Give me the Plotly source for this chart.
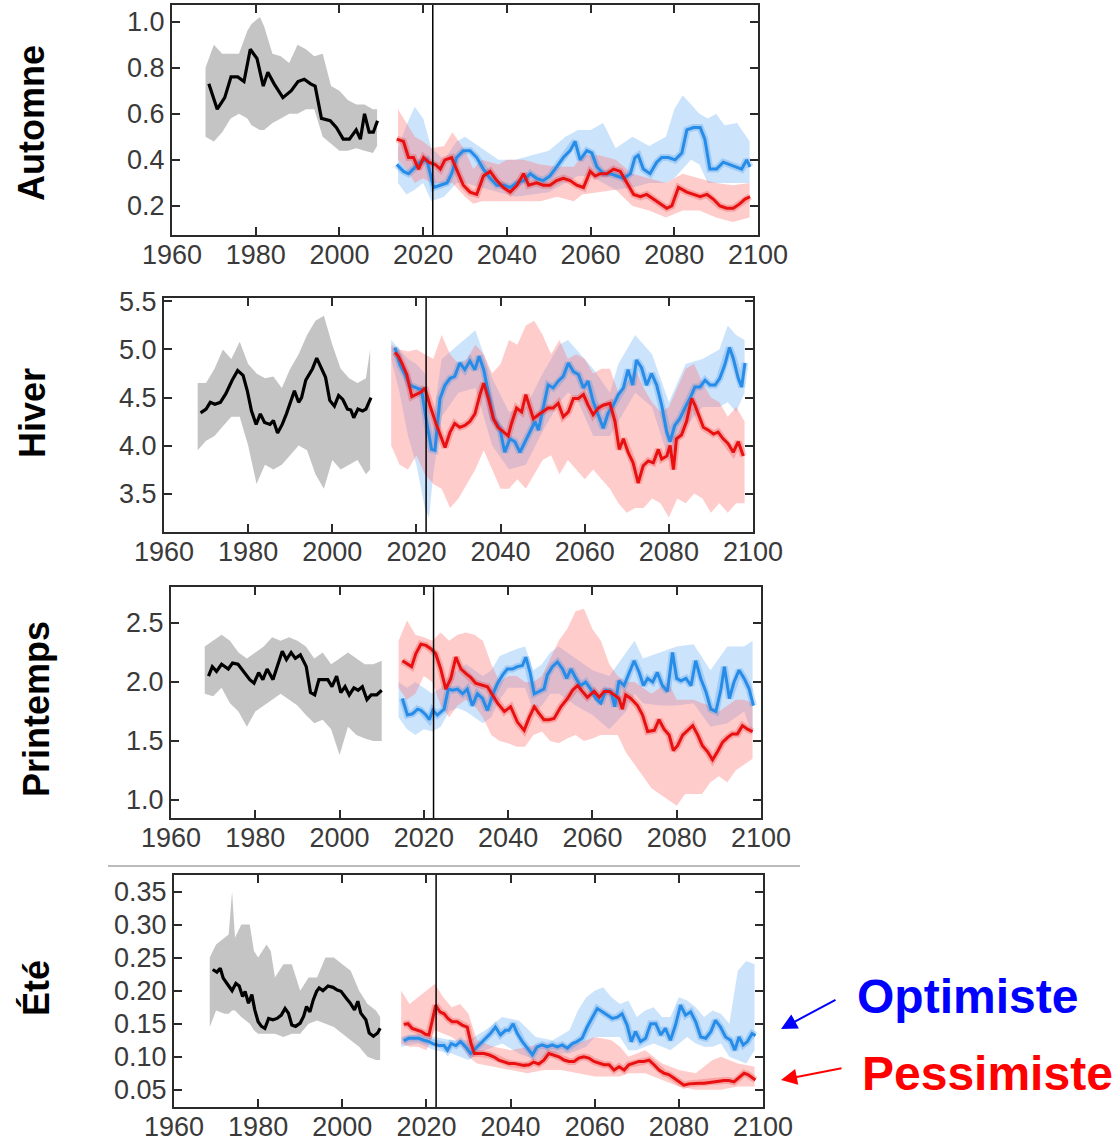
import plotly.graph_objects as go

W, H = 1118, 1143

# ---------------- DATA ----------------
X_TICKS = [1960, 1980, 2000, 2020, 2040, 2060, 2080, 2100]
VLINE_X = 2022.3

# ---- Automne ----
AUT_HIST_X = [1968.8,1970.8,1972.6,1974.1,1975.7,1977.2,1978.7,1980.3,1981.8,1982.9,1984.4,1986.5,1988.5,1990.1,1991.6,1993.1,1994.2,1995.7,1997.8,1999.3,2000.9,2002.4,2004.0,2005.0,2006.0,2007.1,2008.1,2009.1]
AUT_HIST_Y = [0.73,0.62,0.67,0.76,0.76,0.74,0.88,0.84,0.72,0.78,0.73,0.67,0.70,0.74,0.75,0.73,0.72,0.58,0.57,0.54,0.49,0.49,0.53,0.49,0.60,0.52,0.52,0.57]
AUT_HB_X = [1968,1970,1972,1974,1976,1978,1979,1981,1982,1984,1986,1988,1990,1992,1994,1996,1998,2000,2002,2004,2006,2008,2009]
AUT_HB_HI = [0.80,0.90,0.86,0.86,0.86,0.96,0.99,1.02,0.98,0.86,0.85,0.82,0.90,0.88,0.85,0.86,0.72,0.70,0.66,0.64,0.64,0.62,0.62]
AUT_HB_LO = [0.50,0.48,0.52,0.58,0.60,0.58,0.55,0.53,0.53,0.56,0.58,0.60,0.60,0.62,0.62,0.50,0.47,0.44,0.44,0.45,0.44,0.43,0.46]
AUT_RED_X = [2013.7,2015.3,2016.5,2017.7,2018.9,2020.1,2021.3,2022.9,2024.1,2025.2,2026.8,2028.0,2029.6,2031.2,2032.8,2034.4,2036.0,2037.6,2039.2,2040.8,2042.4,2044.0,2045.2,2047.1,2048.7,2050.3,2051.9,2053.5,2055.1,2056.7,2058.3,2059.9,2061.1,2062.3,2063.9,2065.5,2067.1,2068.7,2070.3,2071.9,2073.4,2075.0,2076.6,2078.2,2079.4,2081.0,2083.0,2084.6,2086.2,2087.8,2089.3,2090.9,2092.5,2094.1,2095.7,2096.9,2098.1]
AUT_RED_Y = [0.49,0.48,0.41,0.41,0.36,0.41,0.39,0.38,0.36,0.40,0.41,0.36,0.29,0.26,0.25,0.33,0.35,0.31,0.28,0.26,0.29,0.34,0.29,0.30,0.29,0.29,0.31,0.32,0.31,0.29,0.28,0.35,0.33,0.34,0.34,0.36,0.35,0.30,0.25,0.24,0.25,0.23,0.21,0.19,0.20,0.28,0.26,0.25,0.24,0.25,0.23,0.20,0.19,0.19,0.21,0.23,0.24]
AUT_BLUE_X = [2013.7,2015.3,2016.5,2017.7,2019.3,2020.9,2022.5,2024.1,2025.7,2026.8,2028.0,2029.6,2031.2,2032.8,2034.4,2036.0,2037.6,2039.2,2040.8,2042.4,2044.0,2045.6,2047.1,2048.7,2050.3,2051.9,2053.5,2055.1,2056.3,2057.5,2059.1,2060.3,2061.5,2063.1,2064.7,2066.3,2067.9,2069.5,2070.6,2071.4,2072.6,2074.2,2075.8,2077.0,2078.6,2080.2,2081.8,2083.0,2084.6,2086.2,2087.3,2088.5,2090.1,2091.7,2093.3,2094.9,2096.1,2097.3,2098.1]
AUT_BLUE_Y = [0.38,0.35,0.34,0.36,0.39,0.40,0.28,0.29,0.30,0.34,0.41,0.44,0.44,0.41,0.36,0.32,0.29,0.29,0.28,0.30,0.31,0.34,0.32,0.31,0.33,0.37,0.41,0.44,0.48,0.40,0.44,0.43,0.37,0.34,0.34,0.33,0.32,0.34,0.41,0.42,0.36,0.34,0.39,0.41,0.41,0.40,0.43,0.53,0.54,0.54,0.49,0.36,0.36,0.39,0.38,0.37,0.36,0.40,0.37]
AUT_BB_X = [2014,2016,2018,2020,2022,2025,2028,2030,2034,2038,2042,2046,2050,2054,2057,2060,2063,2066,2070,2074,2078,2080,2082,2084,2086,2088,2090,2092,2095,2098]
AUT_BB_HI = [0.45,0.55,0.63,0.58,0.45,0.40,0.48,0.50,0.45,0.40,0.40,0.42,0.44,0.50,0.53,0.53,0.56,0.45,0.50,0.46,0.50,0.62,0.68,0.64,0.60,0.58,0.60,0.55,0.56,0.48]
AUT_BB_LO = [0.30,0.25,0.27,0.30,0.22,0.24,0.30,0.30,0.28,0.26,0.24,0.25,0.26,0.30,0.33,0.33,0.30,0.27,0.28,0.30,0.30,0.32,0.36,0.40,0.38,0.30,0.30,0.30,0.30,0.30]
AUT_RB_X = [2014,2016,2018,2020,2022,2025,2027,2030,2032,2034,2038,2040,2044,2048,2052,2056,2058,2062,2066,2070,2074,2078,2082,2086,2090,2094,2098]
AUT_RB_HI = [0.62,0.56,0.50,0.48,0.45,0.46,0.52,0.44,0.36,0.40,0.38,0.40,0.40,0.38,0.37,0.37,0.42,0.42,0.40,0.34,0.32,0.30,0.34,0.32,0.30,0.29,0.30]
AUT_RB_LO = [0.40,0.36,0.30,0.32,0.30,0.30,0.30,0.24,0.21,0.22,0.22,0.22,0.22,0.22,0.24,0.22,0.25,0.26,0.27,0.20,0.18,0.15,0.18,0.18,0.15,0.13,0.15]
AUT_Y_TICKS = [0.2, 0.4, 0.6, 0.8, 1.0]

# ---- Hiver ----
HIV_HIST_X = [1968.7,1970.0,1971.0,1972.1,1973.4,1974.7,1976.2,1977.5,1978.8,1979.8,1980.8,1981.9,1982.9,1983.9,1985.2,1986.0,1987.0,1988.1,1989.1,1990.1,1991.0,1992.0,1992.7,1993.7,1995.3,1996.3,1997.4,1998.4,1999.4,2000.5,2001.5,2002.5,2003.6,2004.4,2005.1,2006.1,2007.2,2008.0,2009.2]
HIV_HIST_Y = [4.34,4.38,4.45,4.43,4.45,4.54,4.68,4.78,4.73,4.57,4.36,4.22,4.33,4.24,4.22,4.26,4.13,4.22,4.33,4.45,4.57,4.45,4.50,4.68,4.80,4.91,4.80,4.71,4.47,4.41,4.52,4.48,4.38,4.37,4.29,4.38,4.36,4.38,4.50]
HIV_HB_X = [1968,1970,1972,1974,1976,1978,1980,1982,1984,1986,1988,1990,1992,1994,1996,1998,2000,2002,2004,2006,2008,2009]
HIV_HB_HI = [4.65,4.65,4.80,5.00,4.90,5.08,4.85,4.75,4.70,4.72,4.60,4.80,4.95,5.15,5.30,5.35,5.05,4.80,4.70,4.65,4.70,5.00]
HIV_HB_LO = [3.95,4.05,4.10,4.20,4.30,4.30,4.00,3.60,3.80,3.75,3.80,3.90,4.00,3.95,3.70,3.55,3.85,3.75,3.80,3.85,3.70,3.75]
HIV_RED_X = [2014.9,2015.7,2016.5,2017.7,2018.9,2020.0,2021.2,2022.0,2023.2,2024.8,2026.0,2026.8,2028.0,2029.1,2030.3,2031.5,2032.7,2033.9,2035.1,2036.0,2037.1,2038.3,2039.4,2040.6,2041.8,2042.6,2043.8,2045.0,2046.0,2047.0,2047.8,2049.0,2050.1,2051.3,2052.5,2053.7,2054.9,2056.1,2057.3,2058.5,2059.7,2060.8,2062.0,2063.2,2064.4,2066.0,2067.2,2068.2,2069.2,2070.3,2071.5,2072.7,2073.9,2075.1,2076.3,2077.5,2078.3,2079.5,2080.3,2081.1,2081.8,2083.0,2084.2,2085.4,2086.2,2087.0,2088.2,2089.4,2090.6,2091.7,2092.9,2094.1,2095.3,2096.5,2097.7]
HIV_RED_Y = [4.97,4.93,4.86,4.74,4.51,4.53,4.56,4.60,4.42,4.21,4.07,3.98,4.14,4.23,4.19,4.21,4.25,4.33,4.53,4.65,4.49,4.28,4.19,4.14,4.10,4.23,4.39,4.35,4.53,4.39,4.28,4.32,4.35,4.39,4.39,4.44,4.30,4.35,4.49,4.49,4.53,4.42,4.32,4.39,4.42,4.44,4.25,3.96,4.07,3.93,3.82,3.61,3.79,3.84,3.82,3.96,3.86,3.89,4.00,3.75,4.07,4.11,4.25,4.49,4.42,4.32,4.19,4.16,4.12,4.14,4.07,4.02,3.93,4.04,3.89]
HIV_BLUE_X = [2014.9,2016.1,2017.3,2018.4,2020.0,2021.2,2022.4,2023.6,2024.4,2025.6,2026.8,2028.0,2029.1,2030.3,2031.5,2032.7,2033.9,2034.9,2036.0,2037.1,2038.3,2039.8,2041.0,2042.2,2043.4,2044.6,2045.8,2047.0,2048.2,2049.0,2050.1,2051.3,2052.5,2053.7,2054.9,2056.1,2057.3,2058.5,2059.7,2060.8,2062.0,2063.2,2064.4,2065.6,2066.8,2068.0,2069.2,2070.3,2071.4,2072.3,2073.5,2074.7,2075.9,2077.1,2078.3,2079.5,2080.3,2081.4,2082.6,2083.8,2085.0,2086.2,2087.4,2088.6,2089.8,2091.0,2092.1,2093.3,2094.4,2095.3,2096.5,2097.3,2098.1]
HIV_BLUE_Y = [5.02,4.84,4.74,4.63,4.60,4.58,4.25,3.96,3.95,4.49,4.63,4.70,4.72,4.86,4.79,4.88,4.79,4.93,4.79,4.56,4.28,4.18,3.93,4.07,4.04,3.93,4.04,4.14,4.25,4.16,4.39,4.63,4.60,4.67,4.72,4.86,4.77,4.74,4.60,4.67,4.46,4.32,4.18,4.34,4.42,4.53,4.60,4.79,4.63,4.89,4.81,4.63,4.75,4.63,4.42,4.14,4.04,4.21,4.28,4.39,4.49,4.61,4.61,4.68,4.63,4.63,4.70,4.84,5.02,4.91,4.70,4.61,4.86]
HIV_BB_X = [2014,2016,2018,2020,2022,2023,2024,2026,2030,2034,2038,2042,2046,2050,2054,2056,2058,2062,2066,2068,2072,2076,2080,2084,2088,2092,2094,2096,2098]
HIV_BB_HI = [5.10,5.00,4.90,4.85,4.75,4.50,4.30,4.90,5.05,5.20,4.70,4.35,4.40,4.75,5.05,5.10,5.00,4.80,4.55,4.85,5.15,4.95,4.45,4.85,4.90,5.00,5.25,5.15,5.10]
HIV_BB_LO = [4.90,4.55,4.10,3.80,3.35,3.25,3.70,4.30,4.55,4.60,4.00,3.75,3.80,4.15,4.45,4.55,4.50,4.10,4.10,4.25,4.55,4.40,3.85,4.20,4.40,4.40,4.45,4.35,4.55]
HIV_RB_X = [2014,2016,2018,2020,2022,2024,2026,2028,2030,2032,2034,2036,2038,2040,2042,2044,2046,2048,2050,2052,2054,2056,2058,2060,2062,2064,2066,2068,2070,2072,2074,2076,2078,2080,2082,2084,2086,2088,2090,2092,2094,2096,2098]
HIV_RB_HI = [5.05,5.00,4.98,5.00,4.95,4.90,5.15,4.95,4.85,4.90,5.05,4.95,4.75,4.85,5.10,5.05,5.25,5.30,5.15,4.95,5.10,4.90,4.95,4.90,4.75,4.80,4.80,4.55,4.65,4.80,4.60,4.45,4.35,4.40,4.60,4.80,4.85,4.65,4.50,4.45,4.30,4.40,4.25]
HIV_RB_LO = [4.00,3.80,3.75,3.90,3.70,3.60,3.55,3.35,3.45,3.60,3.75,3.95,3.75,3.55,3.55,3.65,3.55,3.70,3.85,3.90,3.70,3.85,3.75,3.65,3.75,3.65,3.55,3.40,3.30,3.35,3.35,3.45,3.40,3.25,3.45,3.40,3.50,3.45,3.30,3.40,3.30,3.40,3.40]
HIV_Y_TICKS = [3.5, 4.0, 4.5, 5.0, 5.5]

# ---- Printemps ----
PRI_HIST_X = [1968.9,1969.8,1970.8,1972.0,1973.6,1974.6,1975.9,1977.2,1978.7,1979.7,1980.8,1981.8,1982.8,1984.2,1985.2,1986.4,1987.4,1988.5,1989.5,1990.7,1992.1,1993.1,1994.1,1995.1,1996.2,1997.2,1998.2,1999.3,2000.3,2001.3,2002.3,2003.4,2004.4,2005.4,2006.5,2007.5,2008.8,2010.0]
PRI_HIST_Y = [2.05,2.13,2.09,2.15,2.11,2.16,2.15,2.09,2.02,1.99,2.08,2.02,2.11,2.02,2.12,2.26,2.19,2.25,2.20,2.23,2.13,1.91,1.89,2.02,2.02,2.02,1.96,2.05,1.91,1.96,1.89,1.95,1.93,1.96,1.85,1.89,1.89,1.93]
PRI_HB_X = [1968,1970,1972,1974,1976,1978,1980,1982,1984,1986,1988,1990,1992,1994,1996,1998,2000,2002,2004,2006,2008,2010]
PRI_HB_HI = [2.30,2.35,2.40,2.35,2.25,2.20,2.25,2.30,2.38,2.35,2.38,2.35,2.30,2.20,2.25,2.15,2.20,2.25,2.20,2.15,2.15,2.18]
PRI_HB_LO = [1.90,1.88,1.95,1.82,1.75,1.62,1.75,1.80,1.85,1.90,1.85,1.80,1.72,1.65,1.68,1.60,1.38,1.62,1.55,1.52,1.50,1.50]
PRI_RED_X = [2014.9,2016.1,2017.1,2018.1,2019.3,2020.5,2021.7,2022.8,2024.0,2025.2,2026.4,2027.6,2028.8,2030.0,2031.1,2032.3,2033.9,2035.1,2036.3,2037.5,2039.1,2040.6,2042.2,2043.8,2045.0,2046.2,2047.4,2048.5,2049.7,2050.9,2052.5,2054.1,2055.3,2056.5,2057.6,2058.8,2060.4,2061.6,2062.8,2064.0,2065.2,2066.3,2067.1,2067.9,2069.1,2070.7,2071.9,2073.1,2074.7,2075.8,2077.0,2078.2,2079.2,2080.2,2081.4,2082.6,2083.8,2085.0,2086.1,2087.3,2088.5,2089.7,2090.9,2092.1,2093.2,2094.4,2095.6,2096.8,2098.0]
PRI_RED_Y = [2.18,2.15,2.13,2.24,2.32,2.31,2.28,2.24,2.11,1.94,2.03,2.21,2.11,2.07,2.04,1.99,1.97,1.96,1.89,1.82,1.75,1.79,1.66,1.59,1.70,1.79,1.73,1.68,1.68,1.69,1.79,1.86,1.93,1.97,1.92,1.87,1.92,1.87,1.92,1.92,1.89,1.86,1.77,1.89,1.86,1.80,1.72,1.58,1.59,1.68,1.60,1.55,1.42,1.46,1.55,1.59,1.63,1.55,1.46,1.41,1.34,1.41,1.49,1.53,1.56,1.56,1.63,1.60,1.58]
PRI_BLUE_X = [2014.9,2016.1,2017.3,2018.5,2019.3,2020.5,2021.3,2022.1,2023.2,2024.8,2025.8,2026.8,2028.0,2029.2,2030.3,2031.5,2032.7,2033.9,2035.1,2036.3,2037.5,2038.7,2039.8,2041.0,2042.2,2043.4,2044.2,2045.2,2046.2,2047.4,2048.5,2049.3,2050.5,2051.7,2052.9,2053.9,2054.9,2056.1,2057.2,2058.4,2059.6,2060.8,2062.0,2063.2,2064.4,2065.3,2066.3,2067.5,2068.7,2069.9,2071.1,2072.1,2073.1,2074.3,2075.4,2076.6,2077.8,2079.0,2080.0,2081.0,2082.2,2083.4,2084.5,2085.7,2086.9,2088.1,2089.3,2090.5,2091.3,2092.5,2093.6,2094.8,2096.0,2097.2,2098.2]
PRI_BLUE_Y = [1.86,1.72,1.73,1.77,1.76,1.72,1.68,1.76,1.72,1.77,1.94,1.93,1.94,1.90,1.94,1.80,1.90,1.86,1.76,1.89,1.99,2.06,2.11,2.11,2.13,2.14,2.21,2.08,1.90,1.92,1.94,2.06,2.13,2.17,2.11,2.03,2.11,2.03,1.97,2.00,1.94,1.86,1.82,1.93,1.92,1.79,2.01,1.97,2.08,2.18,2.08,1.97,2.03,2.00,2.08,1.97,1.92,2.25,2.03,2.01,2.03,1.97,2.18,2.03,1.92,1.77,1.75,1.94,2.13,1.86,2.00,2.10,2.03,1.94,1.80]
PRI_BB_X = [2014,2016,2018,2020,2022,2024,2026,2028,2030,2034,2036,2038,2040,2042,2044,2046,2048,2050,2052,2056,2060,2064,2068,2070,2072,2076,2080,2084,2088,2092,2096,2098]
PRI_BB_HI = [2.00,1.95,2.00,1.95,1.90,1.95,2.05,2.10,2.15,2.05,2.10,2.22,2.25,2.28,2.30,2.10,2.15,2.25,2.30,2.20,2.10,2.05,2.25,2.35,2.20,2.25,2.30,2.32,2.10,2.30,2.30,2.35]
PRI_BB_LO = [1.70,1.60,1.55,1.60,1.58,1.62,1.75,1.78,1.75,1.65,1.70,1.85,1.95,1.95,1.95,1.75,1.80,1.90,1.90,1.80,1.72,1.60,1.75,1.90,1.82,1.80,1.80,1.82,1.62,1.65,1.75,1.55]
PRI_RB_X = [2014,2016,2018,2020,2022,2024,2026,2028,2030,2032,2034,2036,2038,2040,2042,2044,2046,2048,2050,2052,2054,2056,2058,2060,2062,2064,2066,2068,2070,2072,2074,2076,2078,2080,2082,2084,2086,2088,2090,2092,2094,2096,2098]
PRI_RB_HI = [2.35,2.52,2.40,2.38,2.35,2.42,2.35,2.40,2.42,2.40,2.35,2.15,2.00,2.05,2.05,2.00,2.00,2.05,2.20,2.35,2.45,2.60,2.62,2.45,2.35,2.15,2.05,2.00,2.00,1.95,1.90,1.95,2.00,1.85,1.85,1.85,1.82,1.80,1.75,1.80,1.85,1.85,1.82]
PRI_RB_LO = [1.95,1.85,1.90,2.05,2.00,1.80,1.70,1.80,1.85,1.80,1.70,1.55,1.50,1.48,1.45,1.45,1.55,1.58,1.50,1.48,1.52,1.55,1.50,1.52,1.55,1.55,1.55,1.40,1.30,1.20,1.10,1.05,1.00,0.95,1.05,1.05,1.05,1.15,1.20,1.15,1.25,1.30,1.35]
PRI_Y_TICKS = [1.0, 1.5, 2.0, 2.5]

# ---- Été ----
ETE_HIST_X = [1969.2,1970.2,1971.0,1971.7,1972.8,1973.8,1974.7,1975.5,1976.3,1976.9,1977.7,1978.5,1979.2,1980.0,1980.8,1981.6,1982.5,1983.5,1984.5,1985.5,1986.4,1987.2,1988.0,1988.9,1990.0,1990.8,1991.5,1992.3,1993.1,1993.9,1994.5,1995.4,1996.6,1997.8,1998.8,1999.7,2000.9,2001.9,2002.9,2003.7,2004.4,2005.6,2006.4,2007.4,2008.4,2009.0]
ETE_HIST_Y = [0.232,0.228,0.234,0.219,0.209,0.200,0.211,0.207,0.191,0.199,0.181,0.194,0.171,0.153,0.146,0.143,0.158,0.156,0.158,0.163,0.173,0.166,0.148,0.146,0.151,0.161,0.176,0.168,0.186,0.199,0.204,0.200,0.207,0.205,0.201,0.199,0.189,0.181,0.171,0.184,0.166,0.156,0.136,0.131,0.136,0.143]
ETE_HB_X = [1968.5,1970,1972,1973,1973.8,1974.5,1976,1978,1979,1980,1982,1983,1984,1986,1988,1990,1992,1994,1996,1998,2000,2002,2004,2006,2008,2009]
ETE_HB_HI = [0.25,0.27,0.28,0.285,0.35,0.28,0.30,0.30,0.26,0.25,0.27,0.26,0.22,0.24,0.24,0.20,0.22,0.22,0.25,0.25,0.24,0.23,0.20,0.18,0.17,0.16]
ETE_HB_LO = [0.145,0.17,0.165,0.165,0.17,0.17,0.16,0.15,0.14,0.135,0.135,0.135,0.135,0.13,0.135,0.135,0.15,0.155,0.15,0.145,0.135,0.125,0.115,0.10,0.095,0.095]
ETE_RED_X = [2014.6,2015.6,2016.6,2017.7,2018.8,2019.8,2020.6,2021.4,2022.2,2023.2,2024.2,2025.1,2026.1,2027.3,2028.5,2029.7,2030.6,2031.4,2032.5,2033.7,2034.8,2036.0,2037.2,2038.4,2039.6,2040.8,2042.0,2043.2,2044.4,2045.5,2046.7,2047.9,2049.1,2050.3,2051.5,2052.7,2053.9,2055.1,2056.2,2057.4,2058.6,2059.8,2061.0,2062.2,2063.4,2064.6,2065.8,2067.0,2068.1,2069.3,2070.5,2071.7,2072.9,2074.1,2075.3,2076.5,2077.6,2078.8,2080.0,2081.2,2082.4,2083.6,2084.8,2086.0,2087.1,2088.3,2089.5,2090.7,2091.9,2093.1,2094.3,2095.5,2096.4,2097.4,2098.2]
ETE_RED_Y = [0.149,0.150,0.143,0.140,0.138,0.134,0.133,0.155,0.178,0.168,0.165,0.158,0.153,0.153,0.148,0.145,0.120,0.105,0.105,0.105,0.103,0.100,0.095,0.093,0.090,0.090,0.088,0.087,0.088,0.092,0.089,0.095,0.105,0.103,0.100,0.095,0.093,0.093,0.098,0.100,0.098,0.093,0.090,0.088,0.088,0.080,0.085,0.080,0.088,0.090,0.093,0.093,0.095,0.088,0.080,0.075,0.073,0.068,0.063,0.057,0.059,0.060,0.060,0.060,0.061,0.063,0.063,0.064,0.064,0.062,0.068,0.075,0.073,0.068,0.065]
ETE_BLUE_X = [2014.6,2015.8,2017.0,2018.2,2019.4,2020.6,2021.8,2023.0,2024.2,2025.0,2025.9,2027.0,2028.1,2029.3,2030.5,2031.7,2032.9,2034.1,2035.2,2036.4,2037.6,2038.8,2039.6,2040.6,2041.6,2042.8,2044.0,2045.2,2046.3,2047.5,2048.7,2049.9,2051.1,2052.3,2053.5,2054.7,2055.8,2057.0,2058.2,2059.4,2060.6,2061.8,2063.0,2064.2,2065.4,2066.5,2067.7,2068.7,2069.7,2070.9,2072.1,2073.3,2074.5,2075.7,2076.8,2078.0,2079.2,2080.4,2081.6,2082.8,2084.0,2085.2,2086.4,2087.6,2088.7,2089.9,2091.1,2092.3,2093.3,2094.3,2095.3,2096.3,2097.4,2098.2]
ETE_BLUE_Y = [0.124,0.128,0.128,0.128,0.125,0.123,0.119,0.117,0.117,0.110,0.120,0.117,0.123,0.115,0.105,0.113,0.120,0.128,0.135,0.145,0.133,0.140,0.140,0.150,0.135,0.123,0.113,0.103,0.115,0.118,0.115,0.118,0.115,0.118,0.113,0.120,0.123,0.128,0.145,0.160,0.173,0.168,0.163,0.158,0.160,0.165,0.148,0.123,0.138,0.123,0.128,0.150,0.150,0.133,0.143,0.125,0.148,0.178,0.163,0.168,0.153,0.130,0.128,0.138,0.155,0.145,0.130,0.125,0.110,0.130,0.118,0.123,0.135,0.132]
ETE_BB_X = [2014,2018,2022,2026,2030,2034,2038,2042,2046,2050,2054,2056,2058,2060,2062,2064,2066,2068,2070,2072,2074,2076,2078,2080,2082,2084,2086,2088,2090,2092,2094,2096,2098]
ETE_BB_HI = [0.130,0.135,0.130,0.125,0.125,0.140,0.160,0.155,0.130,0.125,0.140,0.170,0.190,0.200,0.205,0.190,0.180,0.185,0.160,0.170,0.175,0.160,0.160,0.190,0.185,0.175,0.160,0.170,0.165,0.150,0.230,0.245,0.240]
ETE_BB_LO = [0.115,0.120,0.110,0.105,0.095,0.110,0.120,0.105,0.095,0.105,0.105,0.110,0.115,0.130,0.130,0.130,0.130,0.110,0.110,0.115,0.120,0.115,0.110,0.120,0.130,0.120,0.115,0.115,0.120,0.100,0.095,0.090,0.110]
ETE_RB_X = [2014,2016,2018,2020,2022,2024,2026,2028,2030,2032,2036,2040,2044,2048,2052,2056,2060,2064,2066,2068,2072,2076,2080,2084,2088,2090,2094,2098]
ETE_RB_HI = [0.200,0.180,0.190,0.200,0.210,0.190,0.175,0.180,0.165,0.125,0.115,0.110,0.115,0.120,0.115,0.120,0.130,0.125,0.115,0.100,0.110,0.090,0.080,0.075,0.095,0.100,0.090,0.085]
ETE_RB_LO = [0.120,0.115,0.115,0.110,0.140,0.135,0.130,0.120,0.100,0.090,0.085,0.080,0.075,0.080,0.080,0.075,0.070,0.070,0.070,0.075,0.075,0.065,0.055,0.050,0.050,0.050,0.055,0.055]
ETE_Y_TICKS = [0.05, 0.10, 0.15, 0.20, 0.25, 0.30, 0.35]

SEASONS = ["Automne", "Hiver", "Printemps", "Été"]
SCENARIOS = ["Optimiste", "Pessimiste"]

# ---------------- STYLE / LAYOUT ----------------
def PX(x):
    return x / W

def PY(y):
    return 1 - y / H

# frame boxes in pixels (left, right, top, bottom) and y ranges
FRAMES = [(172, 758, 5, 235), (164, 753, 298, 532), (171, 761, 587, 818), (174, 763, 875, 1107)]
Y_RANGES = [[0.074, 1.072], [3.10, 5.536], [0.847, 2.805], [0.024, 0.375]]
Y_FMT = [".1f", ".1f", ".1f", ".2f"]
TITLE_POS = [(32, 123), (32, 413), (36, 709), (36, 988)]

panels = [
    dict(hx=AUT_HIST_X, hy=AUT_HIST_Y, hbx=AUT_HB_X, hbl=AUT_HB_LO, hbh=AUT_HB_HI,
         rx=AUT_RED_X, ry=AUT_RED_Y, bx=AUT_BLUE_X, by=AUT_BLUE_Y,
         rbx=AUT_RB_X, rbl=AUT_RB_LO, rbh=AUT_RB_HI, bbx=AUT_BB_X, bbl=AUT_BB_LO, bbh=AUT_BB_HI,
         yt=AUT_Y_TICKS),
    dict(hx=HIV_HIST_X, hy=HIV_HIST_Y, hbx=HIV_HB_X, hbl=HIV_HB_LO, hbh=HIV_HB_HI,
         rx=HIV_RED_X, ry=HIV_RED_Y, bx=HIV_BLUE_X, by=HIV_BLUE_Y,
         rbx=HIV_RB_X, rbl=HIV_RB_LO, rbh=HIV_RB_HI, bbx=HIV_BB_X, bbl=HIV_BB_LO, bbh=HIV_BB_HI,
         yt=HIV_Y_TICKS),
    dict(hx=PRI_HIST_X, hy=PRI_HIST_Y, hbx=PRI_HB_X, hbl=PRI_HB_LO, hbh=PRI_HB_HI,
         rx=PRI_RED_X, ry=PRI_RED_Y, bx=PRI_BLUE_X, by=PRI_BLUE_Y,
         rbx=PRI_RB_X, rbl=PRI_RB_LO, rbh=PRI_RB_HI, bbx=PRI_BB_X, bbl=PRI_BB_LO, bbh=PRI_BB_HI,
         yt=PRI_Y_TICKS),
    dict(hx=ETE_HIST_X, hy=ETE_HIST_Y, hbx=ETE_HB_X, hbl=ETE_HB_LO, hbh=ETE_HB_HI,
         rx=ETE_RED_X, ry=ETE_RED_Y, bx=ETE_BLUE_X, by=ETE_BLUE_Y,
         rbx=ETE_RB_X, rbl=ETE_RB_LO, rbh=ETE_RB_HI, bbx=ETE_BB_X, bbl=ETE_BB_LO, bbh=ETE_BB_HI,
         yt=ETE_Y_TICKS),
]

for p in panels:
    assert len(p["hx"]) == len(p["hy"])
    assert len(p["hbx"]) == len(p["hbl"]) == len(p["hbh"])
    assert len(p["rx"]) == len(p["ry"])
    assert len(p["bx"]) == len(p["by"])
    assert len(p["rbx"]) == len(p["rbl"]) == len(p["rbh"])
    assert len(p["bbx"]) == len(p["bbl"]) == len(p["bbh"])

GRAY_FILL = "rgb(196,196,196)"
RED_FILL = "rgba(255,120,120,0.38)"
BLUE_FILL = "rgba(110,175,245,0.35)"
RED_LINE = "rgb(232,16,16)"
BLUE_LINE = "rgb(38,140,232)"
FONT = "Arial, Liberation Sans, sans-serif"

fig = go.Figure()
layout = dict(width=W, height=H, margin=dict(l=0, r=0, t=0, b=0, autoexpand=False), autosize=False,
              paper_bgcolor="white", plot_bgcolor="white", showlegend=False)


def band(xs, lo, hi, color, xa, ya):
    return go.Scatter(x=list(xs) + list(xs)[::-1], y=list(hi) + list(lo)[::-1],
                      fill="toself", fillcolor=color, line=dict(width=0), mode="lines",
                      hoverinfo="skip", xaxis=xa, yaxis=ya)


shapes = []
annotations = []
for i, p in enumerate(panels):
    n = "" if i == 0 else str(i + 1)
    xa, ya = "x" + n, "y" + n
    fig.add_trace(band(p["hbx"], p["hbl"], p["hbh"], GRAY_FILL, xa, ya))
    fig.add_trace(band(p["bbx"], p["bbl"], p["bbh"], BLUE_FILL, xa, ya))
    fig.add_trace(band(p["rbx"], p["rbl"], p["rbh"], RED_FILL, xa, ya))
    # soft halos
    fig.add_trace(go.Scatter(x=p["bx"], y=p["by"], mode="lines", xaxis=xa, yaxis=ya,
                             line=dict(color="rgba(38,140,232,0.25)", width=7), hoverinfo="skip"))
    fig.add_trace(go.Scatter(x=p["rx"], y=p["ry"], mode="lines", xaxis=xa, yaxis=ya,
                             line=dict(color="rgba(232,16,16,0.22)", width=7), hoverinfo="skip"))
    fig.add_trace(go.Scatter(x=p["hx"], y=p["hy"], mode="lines", xaxis=xa, yaxis=ya,
                             line=dict(color="black", width=3.2), name="obs"))
    fig.add_trace(go.Scatter(x=p["bx"], y=p["by"], mode="lines", xaxis=xa, yaxis=ya,
                             line=dict(color=BLUE_LINE, width=3), name=SCENARIOS[0]))
    fig.add_trace(go.Scatter(x=p["rx"], y=p["ry"], mode="lines", xaxis=xa, yaxis=ya,
                             line=dict(color=RED_LINE, width=3), name=SCENARIOS[1]))

    l, r, t, b = FRAMES[i]
    common = dict(showline=True, linecolor="#2a2a2a", linewidth=2, mirror="ticks",
                  ticks="inside", ticklen=8, tickwidth=1.5, tickcolor="#2a2a2a",
                  showgrid=False, zeroline=False, automargin=False,
                  tickfont=dict(family=FONT, size=27, color="#3a3a3a"))
    layout["xaxis" + n] = dict(common, domain=[PX(l), PX(r)], anchor=ya, range=[1960, 2100],
                               tickvals=X_TICKS, ticktext=[str(v) for v in X_TICKS],
                               ticklabelstandoff=-5)
    layout["yaxis" + n] = dict(common, domain=[PY(b), PY(t)], anchor=xa, range=Y_RANGES[i],
                               tickvals=p["yt"], tickformat=Y_FMT[i])
    shapes.append(dict(type="line", xref=xa, yref=ya + " domain", x0=VLINE_X, x1=VLINE_X,
                       y0=0, y1=1, line=dict(color="black", width=1.5)))
    tx, ty = TITLE_POS[i]
    annotations.append(dict(text="<b>" + SEASONS[i] + "</b>", x=PX(tx), y=PY(ty),
                            xref="paper", yref="paper", showarrow=False, textangle=-90,
                            xanchor="center", yanchor="middle",
                            font=dict(family=FONT, size=36, color="black")))

# separator line above last panel
shapes.append(dict(type="line", xref="paper", yref="paper", x0=PX(108), x1=PX(800),
                   y0=PY(866), y1=PY(866), line=dict(color="rgb(165,165,165)", width=1.5)))

# scenario labels and arrows
annotations.append(dict(text="<b>Optimiste</b>", x=PX(855), y=PY(996), xref="paper", yref="paper",
                        showarrow=False, xanchor="left", yanchor="middle",
                        font=dict(family=FONT, size=48, color="rgb(0,0,255)")))
annotations.append(dict(text="<b>Pessimiste</b>", x=PX(860), y=PY(1073), xref="paper", yref="paper",
                        showarrow=False, xanchor="left", yanchor="middle",
                        font=dict(family=FONT, size=48, color="rgb(255,0,0)")))
annotations.append(dict(text="", x=PX(781), y=PY(1029), xref="paper", yref="paper",
                        showarrow=True, ax=56, ay=-30, arrowcolor="rgb(0,0,255)",
                        arrowwidth=2, arrowhead=2, arrowsize=1.6))
annotations.append(dict(text="", x=PX(781), y=PY(1080), xref="paper", yref="paper",
                        showarrow=True, ax=62, ay=-12, arrowcolor="rgb(255,0,0)",
                        arrowwidth=2, arrowhead=2, arrowsize=1.6))

layout["shapes"] = shapes
layout["annotations"] = annotations
fig.update_layout(**layout)
fig.write_html("out.html", config={"displayModeBar": False},
               post_script="document.body.style.margin='0px';document.body.style.overflow='hidden';")
